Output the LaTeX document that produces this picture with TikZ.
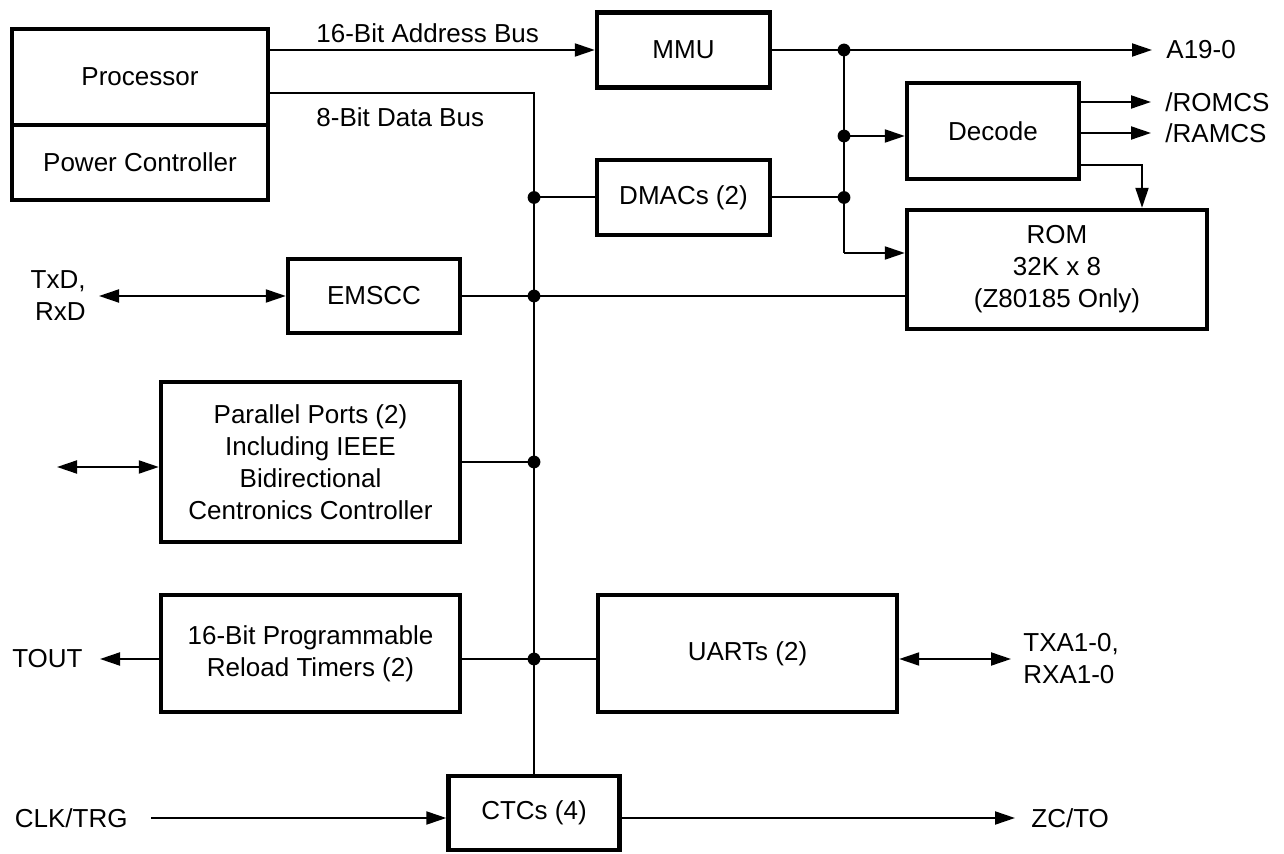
\documentclass[tikz,border=0pt]{standalone}
\usepackage{fontspec}
\setmainfont{Liberation Sans}
\usetikzlibrary{arrows.meta,positioning}
\tikzset{
	blk/.style={draw, line width=2.2pt, align=center, inner sep=0pt},
	lbl/.style={inner ysep=0pt, align=left},
	bus/.style={line width=1pt},
}

\begin{document}
\begin{tikzpicture}[x=0.5pt,y=-0.5pt,>={Triangle[length=10pt,width=6.5pt]},font=\fontsize{13}{16}\selectfont]
					\useasboundingbox (0,0) rectangle (1284,854);
					%Blocchi
					\node[blk, minimum width=128pt, minimum height=48pt] (proc) at (140,77) {Processor};
					\node[blk, minimum width=128pt, minimum height=37.5pt] (pwr) at (140,162.5) {Power Controller};
					\node[blk, minimum width=86.5pt, minimum height=37.5pt] (mmu) at (683.5,50) {MMU};
					\node[blk, minimum width=86.5pt, minimum height=37.5pt] (dmac) at (683.5,197.5) {DMACs (2)};
					\node[blk, minimum width=86pt, minimum height=48pt] (dec) at (993,131) {Decode};
					\node[blk, minimum width=150pt, minimum height=59.5pt] (rom) at (1057,269.5) {ROM\\32K x 8\\(Z80185 Only)};
					\node[blk, minimum width=86pt, minimum height=37pt] (emscc) at (374,296) {EMSCC};
					\node[blk, minimum width=149.5pt, minimum height=80pt] (par) at (310.5,462) {Parallel Ports (2)\\Including IEEE\\Bidirectional\\Centronics Controller};
					\node[blk, minimum width=149.5pt, minimum height=58.5pt] (tmr) at (310.5,653.5) {16-Bit Programmable\\Reload Timers (2)};
					\node[blk, minimum width=149.5pt, minimum height=58.5pt] (uart) at (747.5,653.5) {UARTs (2)};
					\node[blk, minimum width=85.5pt, minimum height=37pt] (ctc) at (534,813) {CTCs (4)};
					%Etichette
					\node[lbl, anchor=west, inner xsep=0pt] (abus) at (316,33) {16-Bit Address Bus};
					\node[lbl, anchor=west, inner xsep=0pt] (dbus) at (316,117) {8-Bit Data Bus};
					\node[lbl, anchor=west, inner xsep=7pt] (a19) at (1152,50) {A19-0};
					\node[lbl, anchor=west, inner xsep=7pt] (romcs) at (1151,102) {/ROMCS};
					\node[lbl, anchor=west, inner xsep=7pt] (ramcs) at (1151,133) {/RAMCS};
					\node[lbl, anchor=east, align=right, inner xsep=6.5pt] (txd) at (99,296) {TxD,\\RxD};
					\node[lbl, anchor=east, inner xsep=8.5pt] (tout) at (100,659) {TOUT};
					\node[lbl, anchor=west, inner xsep=6pt] (txa) at (1011,659) {TXA1-0,\\RXA1-0};
					\node[lbl, anchor=east, inner xsep=11.5pt] (clk) at (151,818) {CLK/TRG};
					\node[lbl, anchor=west, inner xsep=8pt] (zc) at (1015,818) {ZC/TO};
					%Bus
					\coordinate (dtop) at (534,93);
					\coordinate (b1) at (844,50);
					\coordinate (b2) at (844,136);
					\coordinate (b3) at (844,197.5);
					\coordinate (b4) at (844,253);
					\coordinate (dr) at (1142,165);
					\coordinate (pp) at (57,467);
					\coordinate (j1) at (dmac.west -| dtop);
					\coordinate (j2) at (emscc.east -| dtop);
					\coordinate (j3) at (par.east -| dtop);
					\coordinate (j4) at (534,659);
					\draw[bus,->] (proc.east |- mmu.west) -- (mmu.west);
					\draw[bus] (proc.east |- dtop) -- (dtop) -- (ctc.north);
					\draw[bus] (dmac.west) -- (j1);
					\draw[bus] (emscc.east) -- (rom.west |- j2);
					\draw[bus] (par.east) -- (j3);
					\draw[bus] (tmr.east |- j4) -- (uart.west |- j4);
					\draw[bus,->] (mmu.east) -- (a19.west);
					\draw[bus] (b1) -- (b4);
					\draw[bus,->] (b4) -- (rom.west |- b4);
					\draw[bus,->] (b2) -- (dec.west |- b2);
					\draw[bus] (dmac.east) -- (b3);
					\draw[bus,->] (dec.east |- romcs.west) -- (romcs.west);
					\draw[bus,->] (dec.east |- ramcs.west) -- (ramcs.west);
					\draw[bus,->] (dec.east |- dr) -| (rom.north -| dr);
					\draw[bus,<->] (txd.east) -- (emscc.west);
					\draw[bus,<->] (pp) -- (par.west |- pp);
					\draw[bus,->] (tmr.west |- tout.east) -- (tout.east);
					\draw[bus,<->] (uart.east |- txa.west) -- (txa.west);
					\draw[bus,->] (clk.east) -- (ctc.west |- clk.east);
					\draw[bus,->] (ctc.east |- zc.west) -- (zc.west);
					%Nodi
					\foreach \p in {b1,b2,b3,j1,j2,j3,j4}
						\fill (\p) circle (3.2pt);
		\end{tikzpicture}
\end{document}
